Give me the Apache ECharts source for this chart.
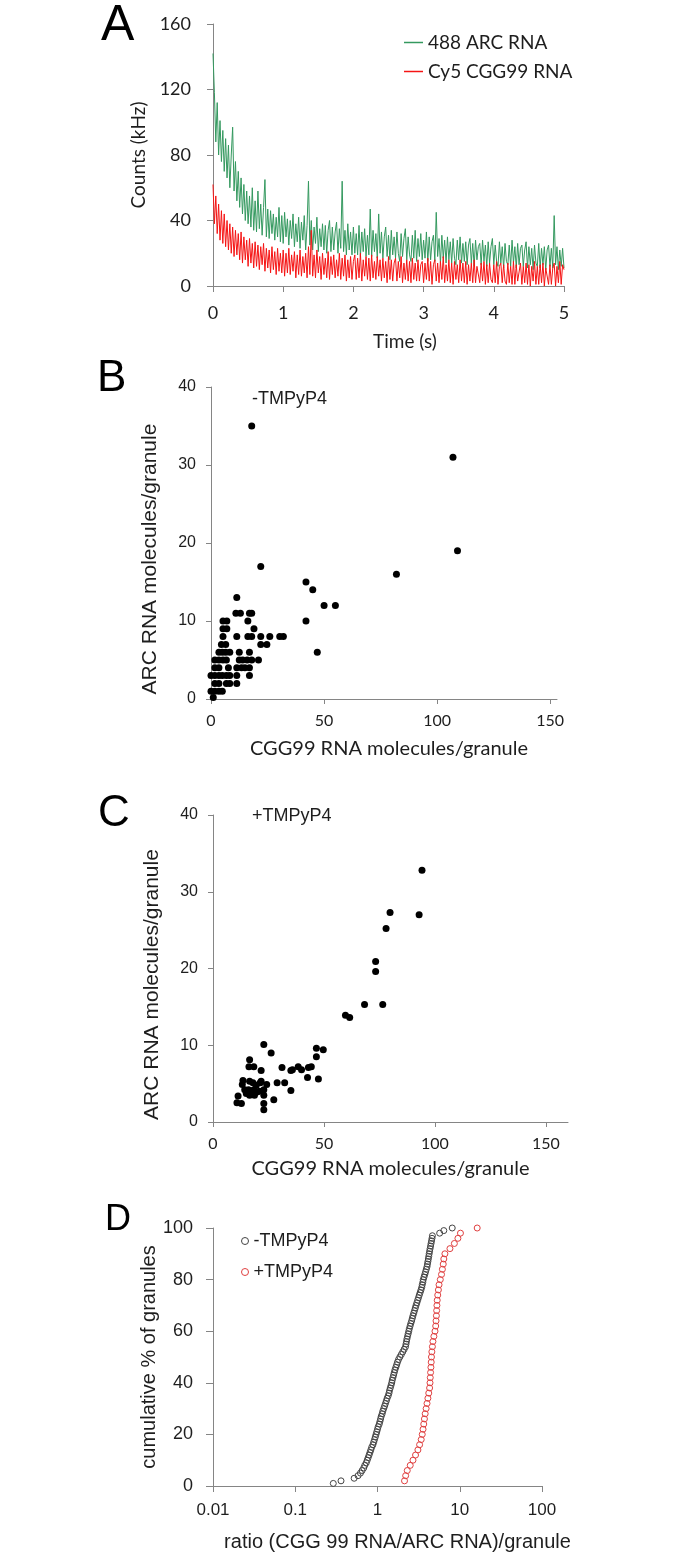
<!DOCTYPE html>
<html><head><meta charset="utf-8">
<script src="https://cdn.jsdelivr.net/npm/echarts@6/dist/echarts.min.js"></script>
<style>html,body{margin:0;padding:0;background:#fff;}#c{width:673px;height:1558px;}</style>
</head><body><div id="c"></div>
<script>
// ---------- Panel A: photon counts (kHz), sampled every 0.02 s ----------
const timeStep = 0.02;
const arcCounts = [142,118,88,112,80,101,76,95,70,90,
66,86,60,80,97,58,76,52,70,48,
66,44,62,40,58,38,55,36,60,34,
52,33,58,35,50,31,48,65,30,47,
29,46,32,44,28,42,30,48,27,43,
26,45,30,41,25,40,29,44,24,38,
27,42,23,39,28,43,22,37,64,25,
40,22,36,26,42,21,35,24,38,22,
37,20,34,40,21,36,22,33,39,20,
35,23,64,21,34,19,38,22,33,19,
36,20,32,19,37,18,33,21,35,18,
31,19,47,18,34,21,32,17,44,20,
33,17,30,36,18,31,16,34,19,30,
17,33,20,15,32,18,29,35,16,30,
19,15,31,17,34,15,29,18,32,16,
28,17,33,15,30,16,27,31,15,45,
18,29,14,31,17,28,14,30,16,27,
14,29,17,13,28,16,30,14,26,15,
27,13,25,29,14,26,12,28,16,24,
26,13,28,15,25,12,27,14,24,29,
13,25,15,12,27,14,24,11,26,15,
13,25,12,28,14,24,11,26,13,23,
25,12,22,27,11,24,13,23,10,25,
14,12,26,11,23,13,24,10,22,25,
12,23,11,43,13,24,10,22,12,23,
11];
const cggCounts = [62,38,55,32,50,28,46,26,44,24,
40,22,38,20,36,18,34,19,32,16,
33,14,30,16,28,12,29,14,26,11,
27,12,25,10,24,13,26,9,23,11,
22,8,24,10,21,7,23,9,20,8,
22,6,20,8,23,7,19,9,21,5,
19,7,22,6,18,8,20,5,24,7,
34,6,19,5,22,8,18,4,20,7,
17,5,21,4,18,7,19,5,16,6,
20,4,17,6,19,3,16,5,18,4,
15,19,4,17,5,20,3,16,6,18,
4,17,3,19,5,15,4,18,6,16,
3,17,5,15,2,18,4,16,3,14,
17,3,15,5,18,2,14,4,16,3,
15,2,17,4,14,3,16,3,13,15,
2,14,4,17,3,15,1,13,16,3,
14,2,15,4,18,2,13,3,16,2,
14,1,15,4,13,2,16,3,14,2,
15,1,13,3,14,2,16,2,12,13,
2,14,3,15,1,13,2,14,4,2,
13,2,15,1,12,14,2,13,3,1,
14,2,12,1,15,1,13,3,2,14,
1,12,2,14,1,13,0,12,3,15,
1,12,1,13,2,14,0,11,12,1,
13,1,11,14,0,12,2,15,1,13,
10];

// ---------- Panel B: -TMPyP4  [CGG99 molecules, ARC molecules] ----------
const minusTmpyp4 = [
[18,35],[107,31],[109,19],[22,17],[82,16],[42,15],[45,14],[11.4,13],[50,12],[55,12],
[11,11],[13,11],[17,11],[18,11],
[5.3,10],[7,10],[16.3,10],[42,10],
[5.3,9],[7,9],[19,9],
[5.3,8],[11.4,8],[16.3,8],[18,8],[22,8],[26,8],[30.4,8],[32,8],
[4.6,7],[6.5,7],[22,7],[24.7,7],
[3.5,6],[5,6],[6.5,6],[8.3,6],[12.5,6],[17,6],[47,6],
[1.7,5],[3.5,5],[5.3,5],[6.8,5],[12.5,5],[14,5],[16,5],[18,5],[21,5],
[1.7,4],[3.5,4],[7.7,4],[11.4,4],[13.5,4],[15,4],[17,4],
[0,3],[1.7,3],[3.5,3],[5,3],[6.8,3],[8.3,3],[11.4,3],[17,3],
[1.7,2],[3.5,2],[6.8,2],[8.3,2],[11.4,2],
[0,1],[1.7,1],[3.5,1],[5,1],
[1,0.2]
];

// ---------- Panel C: +TMPyP4 ----------
const plusTmpyp4 = [
[94.2,32.8],[92.9,27.0],[79.8,27.3],[78,25.2],[73.3,20.9],[73.3,19.6],[76.5,15.3],[68.3,15.3],
[59.7,13.9],[61.6,13.6],[49.7,9.4],[46.6,9.6],[46.6,8.5],[47.5,5.6],[42.6,5.8],[44.3,7.2],
[43,7.1],[38.4,7.2],[39.9,6.8],[35.8,6.8],[35.1,6.7],[35.1,4.1],[31.1,7.1],[32.3,5.1],
[28.9,5.1],[27.4,2.9],[26.2,9.0],[22.9,10.1],[22.9,1.6],[22.9,2.4],[22.9,3.5],[22.9,4.2],
[24.2,4.9],[21.7,5.3],[21.7,6.7],[21.3,5.1],[16.5,8.1],[16.2,7.2],[18.4,7.2],[13.5,5.4],
[13.2,4.9],[16.5,5.3],[18,5.1],[19.5,4.8],[14.3,4.2],[16,4.2],[17.5,4.0],[16.5,3.5],
[18.7,3.5],[19.8,3.9],[15,3.7],[11.3,3.4],[10.8,2.5],[12.8,2.4],[18.4,4.2],[20.9,4.0]
];

// ---------- Panel D: sorted ratio (CGG99/ARC) per granule ----------
const ratioMinus = [0.29,0.36,0.52,0.58,0.62,0.65,0.68,0.70,0.73,0.75,
0.77,0.79,0.81,0.83,0.85,0.88,0.90,0.92,0.94,0.96,
0.98,1.00,1.02,1.05,1.07,1.09,1.11,1.14,1.16,1.19,
1.22,1.25,1.28,1.31,1.35,1.38,1.40,1.43,1.46,1.49,
1.51,1.54,1.57,1.60,1.63,1.67,1.71,1.75,1.80,1.87,
1.95,2.03,2.11,2.19,2.22,2.25,2.28,2.32,2.36,2.40,
2.44,2.49,2.54,2.60,2.65,2.70,2.76,2.82,2.88,2.94,
3.01,3.08,3.15,3.22,3.30,3.38,3.45,3.50,3.56,3.60,
3.68,3.76,3.84,3.92,4.00,4.05,4.10,4.15,4.20,4.25,
4.30,4.36,4.42,4.48,4.54,4.60,4.65,5.7,6.4,8.1];
const ratioPlus = [2.13,2.2,2.3,2.5,2.7,2.9,3.1,3.25,3.4,3.5,
3.58,3.65,3.72,3.8,3.9,4.0,4.1,4.2,4.3,4.35,
4.38,4.42,4.46,4.5,4.53,4.58,4.65,4.72,4.85,5.0,
5.1,5.15,5.2,5.24,5.28,5.32,5.4,5.5,5.6,5.8,
6.0,6.15,6.3,6.4,6.6,7.6,8.6,9.5,10.2,16.3];

const AX = '#858585', TXT = '#1e1e1e';
const ARIAL = '"Liberation Sans", Arial, sans-serif';
const CAL = 'Lato, "Open Sans", sans-serif';

function cumulative(arr){ return arr.map((v,i)=>[v,(i+1)/arr.length*100]); }
function timeSeries(arr){ return arr.map((v,i)=>[+(i*timeStep).toFixed(2), v]); }

function valAxis(o){
  return Object.assign({
    type:'value', splitLine:{show:false},
    axisLine:{show:true, lineStyle:{color:AX, width:1}},
    axisTick:{show:true, length:6, lineStyle:{color:AX}},
    nameLocation:'middle'
  }, o);
}

const chart = echarts.init(document.getElementById('c'), null, {renderer:'canvas'});
chart.setOption({
  animation:false,
  backgroundColor:'#fff',
  grid:[
    {left:213, top:24, width:351, height:262, outerBoundsMode:'none'},
    {left:211, top:387, width:346, height:312, outerBoundsMode:'none'},
    {left:213, top:815, width:355, height:307, outerBoundsMode:'none'},
    {left:213, top:1228, width:329, height:258, outerBoundsMode:'none'}
  ],
  xAxis:[
    valAxis({gridIndex:0, min:0, max:5, interval:1,
      axisLabel:{fontFamily:CAL, fontSize:18, color:TXT, margin:18},
      name:'Time (s)', nameGap:46,
      nameTextStyle:{fontFamily:CAL, fontSize:19, color:TXT, padding:[0,0,0,33]}}),
    valAxis({gridIndex:1, min:0, max:153,
      axisTick:{show:true, length:5, lineStyle:{color:AX}, customValues:[0,50,100,150]},
      axisLabel:{fontFamily:CAL, fontSize:16, color:TXT, margin:14, customValues:[0,50,100,150]},
      name:'CGG99 RNA molecules/granule', nameGap:40,
      nameTextStyle:{fontFamily:CAL, fontSize:20, color:TXT, padding:[0,0,0,10]}}),
    valAxis({gridIndex:2, min:0, max:160,
      axisTick:{show:true, length:5, lineStyle:{color:AX}, customValues:[0,50,100,150]},
      axisLabel:{fontFamily:CAL, fontSize:16, color:TXT, margin:14, customValues:[0,50,100,150]},
      name:'CGG99 RNA molecules/granule', nameGap:37,
      nameTextStyle:{fontFamily:CAL, fontSize:20, color:TXT}}),
    {type:'log', logBase:10, gridIndex:3, min:0.01, max:100,
      splitLine:{show:false}, minorTick:{show:false},
      axisLine:{show:true, lineStyle:{color:AX}},
      axisTick:{show:true, length:6, lineStyle:{color:AX}},
      axisLabel:{fontFamily:ARIAL, fontSize:17, color:TXT, margin:16,
        formatter:v=>String(+(+v).toPrecision(3))},
      name:'ratio (CGG 99 RNA/ARC RNA)/granule', nameLocation:'middle', nameGap:46,
      nameTextStyle:{fontFamily:ARIAL, fontSize:20, color:TXT, padding:[0,0,0,40]}}
  ],
  yAxis:[
    valAxis({gridIndex:0, min:0, max:160, interval:40,
      axisLabel:{fontFamily:CAL, fontSize:18, color:TXT, margin:22},
      name:'Counts (kHz)', nameGap:60,
      nameTextStyle:{fontFamily:CAL, fontSize:19, color:TXT}}),
    valAxis({gridIndex:1, min:0, max:40, interval:10,
      axisTick:{show:true, length:5, lineStyle:{color:AX}},
      axisLabel:{fontFamily:ARIAL, fontSize:16, color:TXT, margin:15},
      name:'ARC RNA molecules/granule', nameGap:50,
      nameTextStyle:{fontFamily:ARIAL, fontSize:21, color:TXT, padding:[0,32,0,0]}}),
    valAxis({gridIndex:2, min:0, max:40, interval:10,
      axisTick:{show:true, length:5, lineStyle:{color:AX}},
      axisLabel:{fontFamily:ARIAL, fontSize:16, color:TXT, margin:15},
      name:'ARC RNA molecules/granule', nameGap:50,
      nameTextStyle:{fontFamily:ARIAL, fontSize:21, color:TXT, padding:[0,32,0,0]}}),
    valAxis({gridIndex:3, min:0, max:100, interval:20,
      axisTick:{show:true, length:7, lineStyle:{color:AX}},
      axisLabel:{fontFamily:ARIAL, fontSize:18, color:TXT, margin:20},
      name:'cumulative % of granules', nameGap:52,
      nameTextStyle:{fontFamily:ARIAL, fontSize:20, color:TXT}})
  ],
  legend:[
    {data:['488 ARC RNA','Cy5 CGG99 RNA'], orient:'vertical', left:399, top:28,
     icon:'rect', itemWidth:19, itemHeight:1.5, itemGap:10,
     textStyle:{fontFamily:CAL, fontSize:19, color:TXT}},
    {data:[{name:'-TMPyP4', itemStyle:{color:'rgba(0,0,0,0)', borderColor:'#444', borderWidth:1}},
           {name:'+TMPyP4', itemStyle:{color:'rgba(0,0,0,0)', borderColor:'#e04040', borderWidth:1}}],
     orient:'vertical', left:236, top:1227, icon:'circle', itemWidth:7, itemHeight:7, itemGap:13,
     textStyle:{fontFamily:ARIAL, fontSize:18, color:TXT}}
  ],
  graphic:[
    {type:'text', x:101, y:26, style:{text:'A', font:'50px "Liberation Sans", Arial', fill:'#000', verticalAlign:'middle'}},
    {type:'text', x:97, y:379, style:{text:'B', font:'44px "Liberation Sans", Arial', fill:'#000', verticalAlign:'middle'}},
    {type:'text', x:98, y:814, style:{text:'C', font:'44px "Liberation Sans", Arial', fill:'#000', verticalAlign:'middle'}},
    {type:'text', x:105, y:1220, style:{text:'D', font:'36px "Liberation Sans", Arial', fill:'#000', verticalAlign:'middle'}},
    {type:'text', x:252, y:399, style:{text:'-TMPyP4', font:'18px "Liberation Sans", Arial', fill:TXT, verticalAlign:'middle'}},
    {type:'text', x:252, y:816, style:{text:'+TMPyP4', font:'18px "Liberation Sans", Arial', fill:TXT, verticalAlign:'middle'}}
  ],
  series:[
    {name:'488 ARC RNA', type:'line', xAxisIndex:0, yAxisIndex:0, data:timeSeries(arcCounts),
     showSymbol:false, symbol:'none', lineStyle:{width:1, color:'#34995f'}, itemStyle:{color:'#34995f'}},
    {name:'Cy5 CGG99 RNA', type:'line', xAxisIndex:0, yAxisIndex:0, data:timeSeries(cggCounts),
     showSymbol:false, symbol:'none', lineStyle:{width:1, color:'#f51414'}, itemStyle:{color:'#f51414'}},
    {name:'B', type:'scatter', xAxisIndex:1, yAxisIndex:1, data:minusTmpyp4, symbolSize:7, itemStyle:{color:'#000', opacity:1}},
    {name:'C', type:'scatter', xAxisIndex:2, yAxisIndex:2, data:plusTmpyp4, symbolSize:7, itemStyle:{color:'#000', opacity:1}},
    {name:'-TMPyP4', type:'scatter', xAxisIndex:3, yAxisIndex:3, data:cumulative(ratioMinus), symbolSize:6,
     itemStyle:{color:'rgba(0,0,0,0)', borderColor:'#444', borderWidth:1, opacity:1}},
    {name:'+TMPyP4', type:'scatter', xAxisIndex:3, yAxisIndex:3, data:cumulative(ratioPlus), symbolSize:6,
     itemStyle:{color:'rgba(0,0,0,0)', borderColor:'#e04040', borderWidth:1, opacity:1}}
  ]
});
</script></body></html>
